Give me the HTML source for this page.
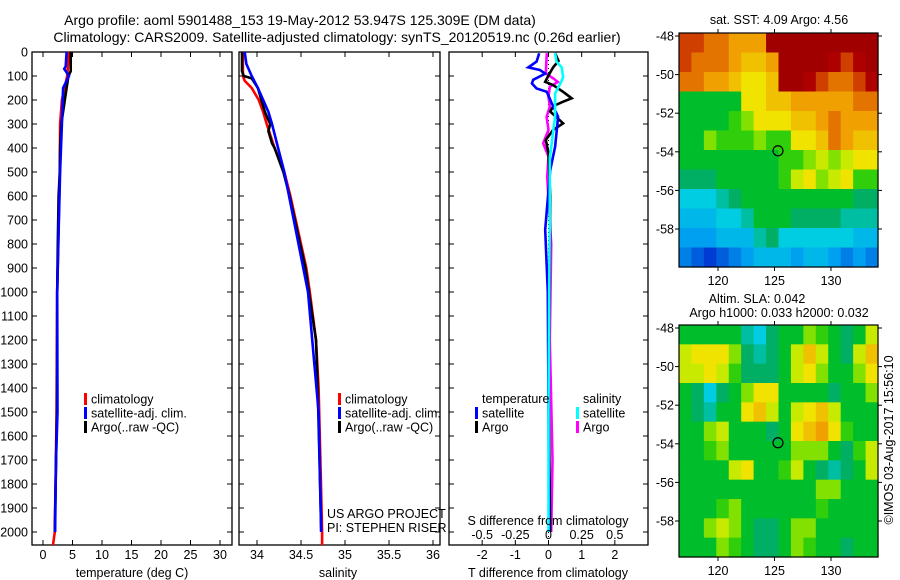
<!DOCTYPE html>
<html><head><meta charset="utf-8"><style>
html,body{margin:0;padding:0;background:#fff;}
svg{display:block;font-family:"Liberation Sans",sans-serif;}
</style></head><body>
<svg id="c" width="900" height="580" viewBox="0 0 900 580" xmlns="http://www.w3.org/2000/svg">
<rect width="900" height="580" fill="#fff"/>
<text x="300" y="25" font-size="14" text-anchor="middle">Argo profile: aoml 5901488_153 19-May-2012 53.947S 125.309E (DM data)</text>
<text x="337" y="42" font-size="14" text-anchor="middle">Climatology: CARS2009. Satellite-adjusted climatology: synTS_20120519.nc (0.26d earlier)</text>
<g id="g"></g>
</svg>
<script>
// ---------- data ----------
var depthTicks=[0,100,200,300,400,500,600,700,800,900,1000,1100,1200,1300,1400,1500,1600,1700,1800,1900,2000];
var tempTicks=[0,5,10,15,20,25,30];
var salTicks=[34,34.5,35,35.5,36];
var tdiffTicks=[-2,-1,0,1,2];
var sdiffTicks=[-0.5,-0.25,0,0.25,0.5];
var sdiffLabels=["-0.5","-0.25","0","0.25","0.5"];

var tClimDepth=[0,100,200,300,500,1000,1500,2000,2054];
var tClimVal=[4.4,4.1,3.2,2.9,2.85,2.4,2.3,2.0,1.7];
var tArgoDepth=[0,80,100,150,200,300,400,500,600,800,1000,1500,2000];
var tArgoVal=[4.7,4.7,4.3,4.0,3.7,3.1,2.9,2.85,2.65,2.5,2.4,2.35,2.0];
var tSatDepth=[0,60,70,100,150,300,400,500,700,1000,1500,1700,2000];
var tSatVal=[4.0,3.85,3.6,4.4,3.4,3.2,3.05,2.9,2.7,2.4,2.45,2.2,2.05];

var sClimDepth=[0,100,120,150,200,250,300,400,500,600,700,800,900,1000,1200,1400,1700,2000,2054];
var sClimVal=[33.84,33.84,33.86,33.94,34.02,34.07,34.11,34.20,34.31,34.38,34.44,34.50,34.56,34.60,34.67,34.70,34.72,34.74,34.74];
var sArgoDepth=[0,80,100,110,150,200,250,300,330,380,400,500,600,700,800,900,1000,1200,1400,1700,2000];
var sArgoVal=[33.83,33.83,33.85,33.94,34.01,34.05,34.09,34.15,34.13,34.17,34.2,34.3,34.37,34.43,34.49,34.55,34.59,34.67,34.69,34.71,34.73];
var sSatDepth=[0,50,100,150,200,250,300,400,500,1000,1500,2000];
var sSatVal=[33.86,33.88,33.94,34.01,34.07,34.13,34.17,34.24,34.31,34.58,34.70,34.73];

var dTSatDepth=[5,40,64,75,90,116,131,152,166,214,270,325,395,492,740,1000,1500,2000];
var dTSatVal=[-0.28,-0.36,-0.61,-0.26,-0.1,-0.46,-0.5,-0.36,-0.05,0.1,0.29,0.25,0.2,0.05,-0.1,-0.02,0.0,0.02];
var dTArgoDepth=[5,37,64,98,124,138,166,193,207,225,248,297,325,366,422,600,1000,1400,2000];
var dTArgoVal=[0.2,0.3,0.14,0,-0.1,0.14,0.44,0.7,0.44,0.15,0.05,0.44,0.14,-0.08,0,0.05,0.03,0.0,0.05];
var dSArgoDepth=[5,89,110,125,145,186,228,270,325,380,436,520,800,1200,1700,2000];
var dSArgoVal=[-0.013,-0.02,0.036,0.07,0.01,0,0.01,-0.014,0,-0.04,0,-0.01,0.02,0.01,0.03,0.02];
var dSSatDepth=[5,40,64,106,131,173,230,270,325,380,440,700,1000,1500,2000];
var dSSatVal=[0.05,0.06,0.1,0.11,0.09,0.05,0.05,0.05,0.036,0.024,0.01,0.01,0.005,0.0,0.0];

var lonTicks=[120,125,130];
var latTicks=[-48,-50,-52,-54,-56,-58];
var argoLon=125.309, argoLat=-53.947;
var sstGrid=[
[9,9,8.5,8.5,8,8,8,10,10,10,10,10,10,10,10,10],
[9,8.5,8.5,8.5,8,7.5,7.5,8,10,10,10,10,9.5,9,9.5,10],
[8.5,8.5,8,8,7.5,7,7,7.5,10,10,9.5,9,8.5,8.5,9,9.5],
[5,5,5,5,5,7,7,7.5,7.5,8,8,8,8,8,8.5,8.5],
[5,5,5,5,5.5,6,7,7,7,7.5,7.5,8,8.5,8,8,8],
[5,5,6,5.5,5.5,5.5,6,5.5,5.5,7,7,7.5,8.5,8,7.5,7.5],
[5,5,5,5,5,5,5,5,5.5,5.5,6,6.5,6,6.5,7,7],
[4.5,4.5,4.5,5,5,5,5,5,5.5,6.5,7,6,6.5,7,5.5,5.5],
[3.5,3.5,3.5,4,4.5,5,5,5,5,5,5,5,5,5,4.5,4.5],
[3,3,3,3.5,3.5,4,5,5,5,4.5,4.5,4.5,4.5,4,4,4],
[2.5,2.5,2.5,3,3,3,4,4.5,3.5,3.5,3.5,3.5,3.5,3.5,3,3],
[2,1.5,1,1.5,2,2.5,3,3,3,2.5,3,3,2.5,2,2.5,2]];
var slaGrid=[
[5,5,5,5,5,4,3.5,4.5,5,5,6,5.5,5,4.5,5,6.5],
[6.5,7,7,7,6,4.5,4,4.5,5,6.5,7.5,6.5,5,4.5,6.5,7.5],
[6.5,6.5,7,6.5,5.5,4.5,4.5,4.5,5,6.5,7,6,5,5,6,7],
[5,4.5,3.5,4.5,5,6,7,7,5,5,5,5,4.5,5,5,6],
[5,4.5,4,5,5,7,7.5,6.5,5,6.5,7,7.5,6.5,5,5,5],
[5,5,6,6.5,5,5,5,4.5,5,7,7.5,8,7,5.5,5,5],
[5,5,5.5,6,5,5,5,5,5,6,6,6,5,4.5,5.5,6.5],
[5,5,5,5,6.5,7,5,5,5.5,6.5,5,4.5,4,4.5,5,6.5],
[5,5,5,5,5,5,5,5,5,5,5,6,6,5,5,5],
[5,5,5,5.5,6,5,5,5,5,5,5,5.5,5,5,5,5],
[5,5,6,6.5,6,5,4.5,4.5,5,6,6,5,5,5,5,5],
[5,5,5,6,5.5,5,4.5,4.5,5,6,5.5,5,5,4.5,5,5]];

// ---------- helpers ----------
var NS="http://www.w3.org/2000/svg", G=document.getElementById('g');
function mk(tag,attrs,parent){var e=document.createElementNS(NS,tag);for(var k in attrs)e.setAttribute(k,attrs[k]);(parent||G).appendChild(e);return e;}
var Y0=52, YK=0.24, YB=545;
function yD(d){return Y0+d*YK;}
function linScale(d0,d1,r0,r1){return function(v){return r0+(v-d0)*(r1-r0)/(d1-d0);};}
var xT=linScale(0,30,43,220), xS=linScale(34,36,257,433), xTd=linScale(-3,3,449,648), xSd=linScale(-0.75,0.75,449,648);

function panel(x0,x1,name,labels){
  var r=mk('rect',{x:x0,y:Y0,width:x1-x0,height:YB-Y0,fill:'none',stroke:'#000','stroke-width':1.3});
  
  
  depthTicks.forEach(function(d){
    var y=yD(d);
    mk('line',{x1:x0,x2:x0+5,y1:y,y2:y,stroke:'#000'});
    mk('line',{x1:x1-5,x2:x1,y1:y,y2:y,stroke:'#000'});
    if(labels){var t=mk('text',{x:x0-4,y:y+4.5,'font-size':12.5,'text-anchor':'end'});t.textContent=d;
      
      }
  });
}
function xticks(vals,sc,lbls,name){
  vals.forEach(function(v,i){
    var x=sc(v);
    mk('line',{x1:x,x2:x,y1:Y0,y2:Y0+5,stroke:'#000'});
    mk('line',{x1:x,x2:x,y1:YB-5,y2:YB,stroke:'#000'});
    var t=mk('text',{x:x,y:559,'font-size':12.5,'text-anchor':'middle'});t.textContent=lbls?lbls[i]:v;
    
    
  });
}
function line(dep,val,sc,col,name,w){
  var p=dep.map(function(d,i){return sc(val[i]).toFixed(1)+','+yD(d).toFixed(1);}).join(' ');
  var e=mk('polyline',{points:p,fill:'none',stroke:col,'stroke-width':w||2.6,'stroke-linejoin':'miter'});
  
  
}
function txt(x,y,s,name,size,anchor){
  var t=mk('text',{x:x,y:y,'font-size':size||12.5,'text-anchor':anchor||'start'});t.textContent=s;
  
  
  return t;
}
function legend(x,y,col,s,name){
  var r=mk('rect',{x:x,y:y-6,width:3,height:12,fill:col});
  
  
  txt(x+7,y+4.5,s,name);
}

// ---------- panel 1 ----------
panel(32,232,'temperature-plot',true);
xticks(tempTicks,xT,null,'temperature-tick-label');
line(tClimDepth,tClimVal,xT,'#f00','temperature-climatology-line');
line(tArgoDepth,tArgoVal,xT,'#000','temperature-argo-line');
line(tSatDepth,tSatVal,xT,'#00f','temperature-satellite-line');
txt(132,577,'temperature (deg C)','temperature-axis-title',12.5,'middle');
legend(84,399,'#f00','climatology','legend-climatology');
legend(84,413,'#00f','satellite-adj. clim.','legend-satellite-adj');
legend(84,427,'#000','Argo(..raw -QC)','legend-argo');

// ---------- panel 2 ----------
panel(239,440,'salinity-plot',false);
xticks(salTicks,xS,null,'salinity-tick-label');
line(sClimDepth,sClimVal,xS,'#f00','salinity-climatology-line');
line(sArgoDepth,sArgoVal,xS,'#000','salinity-argo-line');
line(sSatDepth,sSatVal,xS,'#00f','salinity-satellite-line');
txt(338,577,'salinity','salinity-axis-title',12.5,'middle');
legend(338,399,'#f00','climatology','legend2-climatology');
legend(338,413,'#00f','satellite-adj. clim.','legend2-satellite-adj');
legend(338,427,'#000','Argo(..raw -QC)','legend2-argo');
txt(327,518,'US ARGO PROJECT','project-label');
txt(327,532,'PI: STEPHEN RISER','pi-label');

// ---------- panel 3 ----------
panel(449,648,'difference-plot',false);
xticks(tdiffTicks,xTd,null,'tdiff-tick-label');
var zl=mk('line',{x1:xTd(0),x2:xTd(0),y1:Y0,y2:YB,stroke:'#000','stroke-dasharray':'1,3'});


line(dSArgoDepth,dSArgoVal,xSd,'#f0f','sdiff-argo-line');
line(dTArgoDepth,dTArgoVal,xTd,'#000','tdiff-argo-line');
line(dTSatDepth,dTSatVal,xTd,'#00f','tdiff-satellite-line');
line(dSSatDepth,dSSatVal,xSd,'#0ff','sdiff-satellite-line');
txt(548,577,'T difference from climatology','tdiff-axis-title',12.5,'middle');
txt(548,525,'S difference from climatology','sdiff-axis-title',12.5,'middle');
sdiffTicks.forEach(function(v,i){txt(xSd(v),539,sdiffLabels[i],'sdiff-tick-label',12.5,'middle');});
txt(482,403,'temperature','legend-temperature-header');
txt(583,403,'salinity','legend-salinity-header');
legend(475,413,'#00f','satellite','legend-t-satellite');
legend(475,427,'#000','Argo','legend-t-argo');
legend(576,413,'#0ff','satellite','legend-s-satellite');
legend(576,427,'#f0f','Argo','legend-s-argo');

// ---------- maps ----------
var stops=[[0,[0,0,128]],[0.1,[0,60,210]],[0.25,[0,160,240]],[0.35,[0,205,225]],[0.45,[0,175,100]],[0.52,[0,195,20]],[0.6,[130,225,0]],[0.68,[240,240,0]],[0.8,[240,160,0]],[0.88,[220,90,0]],[0.95,[175,0,0]],[1,[160,0,0]]];
function cmap(v){var t=Math.max(0,Math.min(1,v/10));for(var i=1;i<stops.length;i++){if(t<=stops[i][0]){var a=stops[i-1],b=stops[i],f=(t-a[0])/(b[0]-a[0]);return 'rgb('+[0,1,2].map(function(k){return Math.round(a[1][k]+(b[1][k]-a[1][k])*f);}).join(',')+')';}}return 'rgb(160,0,0)';}
var MX0=679,MX1=878, lonX=linScale(120,130,718,831);
function drawMap(grid,top,bot,name){
  var latY=linScale(-48,-58,top+3,top+196);
  var rows=grid.length, cols=grid[0].length, cw=(MX1-MX0)/cols, ch=(bot-top)/rows;
  grid.forEach(function(row,r){row.forEach(function(v,c){
    var e=mk('rect',{x:(MX0+c*cw).toFixed(2),y:(top+r*ch).toFixed(2),width:(cw+0.6).toFixed(2),height:(ch+0.6).toFixed(2),fill:cmap(v)});
    
    
  });});
  var b=mk('rect',{x:MX0,y:top,width:MX1-MX0,height:bot-top,fill:'none',stroke:'#000','stroke-width':1.2});
  
  
  lonTicks.forEach(function(l){var x=lonX(l);
    mk('line',{x1:x,x2:x,y1:top,y2:top-4,stroke:'#000'});mk('line',{x1:x,x2:x,y1:bot,y2:bot+4,stroke:'#000'});
    txt(x,bot+18,l,name+'-lon-label',12.5,'middle');});
  latTicks.forEach(function(l){var y=latY(l);
    mk('line',{x1:MX0,x2:MX0-4,y1:y,y2:y,stroke:'#000'});mk('line',{x1:MX1,x2:MX1+4,y1:y,y2:y,stroke:'#000'});
    txt(MX0-5,y+4.5,l,name+'-lat-label',12.5,'end');});
  var c=mk('circle',{cx:lonX(argoLon),cy:latY(argoLat),r:5,fill:'none',stroke:'#000','stroke-width':1.2});
  
  
}
drawMap(sstGrid,33,267,'sst-map');
drawMap(slaGrid,325,557,'sla-map');
txt(779,24,'sat. SST: 4.09 Argo: 4.56','sst-map-title',12.5,'middle');
txt(757,303,'Altim. SLA: 0.042','sla-map-title',12.5,'middle');
txt(779,317,'Argo h1000: 0.033 h2000: 0.032','sla-map-subtitle',12.5,'middle');
var im=txt(0,0,'©IMOS 03-Aug-2017 15:56:10','imos-stamp',12.5,'middle');
im.setAttribute('transform','translate(893,440) rotate(-90)');
</script>
</body></html>
